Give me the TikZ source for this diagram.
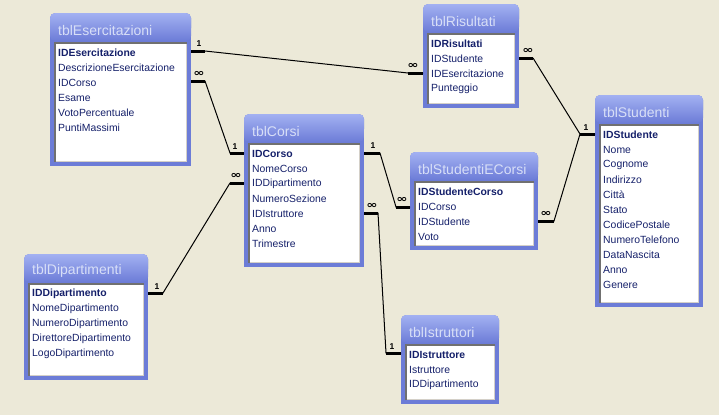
\documentclass[tikz,border=0pt]{standalone}
\usepackage{fontspec}
\setmainfont{Liberation Sans}
\newfontfamily\symfont{DejaVu Sans}
\definecolor{bg}{HTML}{ECE9D8}
\definecolor{tblframe}{HTML}{6C7CD7}
\definecolor{tbltop}{HTML}{A3B1F2}
\definecolor{tbltitle}{HTML}{D8DFF7}
\definecolor{fieldtxt}{HTML}{15206A}
\definecolor{insetdark}{HTML}{707070}
\definecolor{insetlight}{HTML}{D4D0C8}
\tikzset{
  fieldnode/.style={anchor=west, inner sep=0pt, text=fieldtxt, font=\fontsize{10.4}{12}\selectfont},
  titlenode/.style={anchor=west, inner sep=0pt, text=tbltitle, font=\fontsize{14}{16}\selectfont},
  thinrel/.style={draw=black, line width=1pt},
  thickrel/.style={draw=black, line width=3pt},
  labone/.style={inner sep=0pt, font=\fontsize{8.5}{9}\selectfont\bfseries},
  labmany/.style={inner sep=0pt, font=\symfont\fontsize{10}{10}\selectfont\bfseries, xscale=1.35},
}
% #1 id, #2 left, #3 top, #4 right, #5 bottom, #6 title, #7 fields
\newcommand\dbtable[7]{%
  \fill[tblframe, rounded corners=5pt] (#2,#3) rectangle (#4,#3+20);
  \fill[tblframe] (#2,#3+10) rectangle (#4,#5);
  \shade[top color=tbltop, bottom color=tblframe, rounded corners=5pt] (#2,#3) rectangle (#4,#3+28);
  \fill[white] (#2+4,#3+29) rectangle (#4-4,#5-4);
  \draw[insetlight, line width=1.5pt] (#4-4.75,#3+29) -- (#4-4.75,#5-4.75) -- (#2+4,#5-4.75);
  \draw[insetdark, line width=1.5pt] (#2+4.75,#5-4) -- (#2+4.75,#3+29.75) -- (#4-4,#3+29.75);
  \node[titlenode] (#1-title) at (#2+8,#3+17) {#6};
  \foreach \f [count=\i] in {#7} {
    \ifnum\i=1 \def\fw{\bfseries}\else\def\fw{}\fi
    \node[fieldnode, font=\fontsize{10.4}{12}\selectfont\fw] (#1-f\i) at (#2+8,#3+40+15*\i-15) {\f};
  }%
}
\newcommand\relation[4]{%
  \draw[thinrel] (#1) -- (#2) -- (#3) -- (#4);
  \draw[thickrel] (#1) -- (#2);
  \draw[thickrel] (#3) -- (#4);
}
\begin{document}
\begin{tikzpicture}[x=1pt,y=-1pt]
\fill[bg] (0,0) rectangle (719,415);
\useasboundingbox (0,0) rectangle (719,415);

\dbtable{ese}{50}{13}{191}{166}{tblEsercitazioni}{IDEsercitazione,DescrizioneEsercitazione,IDCorso,Esame,VotoPercentuale,PuntiMassimi}
\dbtable{ris}{423}{4}{519}{108}{tblRisultati}{IDRisultati,IDStudente,IDEsercitazione,Punteggio}
\dbtable{cor}{244}{114}{364}{267}{tblCorsi}{IDCorso,NomeCorso,IDDipartimento,NumeroSezione,IDIstruttore,Anno,Trimestre}
\dbtable{sec}{410}{152}{538}{250}{tblStudentiECorsi}{IDStudenteCorso,IDCorso,IDStudente,Voto}
\dbtable{stu}{595}{95}{703}{307}{tblStudenti}{IDStudente,Nome,Cognome,Indirizzo,Città,Stato,CodicePostale,NumeroTelefono,DataNascita,Anno,Genere}
\dbtable{dip}{24}{254}{148}{380}{tblDipartimenti}{IDDipartimento,NomeDipartimento,NumeroDipartimento,DirettoreDipartimento,LogoDipartimento}
\dbtable{ist}{401}{315}{499}{404}{tblIstruttori}{IDIstruttore,Istruttore,IDDipartimento}

% connector end points
\coordinate (r1a) at (191,51);  \coordinate (r1b) at (205,51);
\coordinate (r1c) at (408,73);  \coordinate (r1d) at (423,73);
\coordinate (r2a) at (191,81);  \coordinate (r2b) at (205,81);
\coordinate (r2c) at (230,153); \coordinate (r2d) at (244,153);
\coordinate (r3a) at (364,153); \coordinate (r3b) at (380,153);
\coordinate (r3c) at (396,207); \coordinate (r3d) at (410,207);
\coordinate (r4a) at (364,213); \coordinate (r4b) at (378,213);
\coordinate (r4c) at (386,353); \coordinate (r4d) at (401,353);
\coordinate (r5a) at (148,293); \coordinate (r5b) at (163,293);
\coordinate (r5c) at (230,183); \coordinate (r5d) at (244,183);
\coordinate (r6a) at (538,221); \coordinate (r6b) at (554,221);
\coordinate (r6c) at (580,134); \coordinate (r6d) at (595,134);
\coordinate (r7a) at (519,58);  \coordinate (r7b) at (533,58);

\relation{r1a}{r1b}{r1c}{r1d}
\relation{r2a}{r2b}{r2c}{r2d}
\relation{r3a}{r3b}{r3c}{r3d}
\relation{r4a}{r4b}{r4c}{r4d}
\relation{r5a}{r5b}{r5c}{r5d}
\relation{r6a}{r6b}{r6c}{r6d}
\draw[thinrel] (r7b) -- (r6c);
\draw[thickrel] (r7a) -- (r7b);

% cardinality labels
\node[labone] (l1a) at (199,44) {1};
\node[labmany] (l1b) at (413,66) {∞};
\node[labmany] (l2a) at (199,74) {∞};
\node[labone] (l2b) at (235,147) {1};
\node[labone] (l3a) at (373,146) {1};
\node[labmany] (l3b) at (402,200) {∞};
\node[labmany] (l4a) at (372,206) {∞};
\node[labone] (l4b) at (392,347) {1};
\node[labone] (l5a) at (157,287) {1};
\node[labmany] (l5b) at (236,176) {∞};
\node[labmany] (l6a) at (546,214) {∞};
\node[labone] (l6b) at (586,128) {1};
\node[labmany] (l7a) at (528,51) {∞};
\end{tikzpicture}
\end{document}
